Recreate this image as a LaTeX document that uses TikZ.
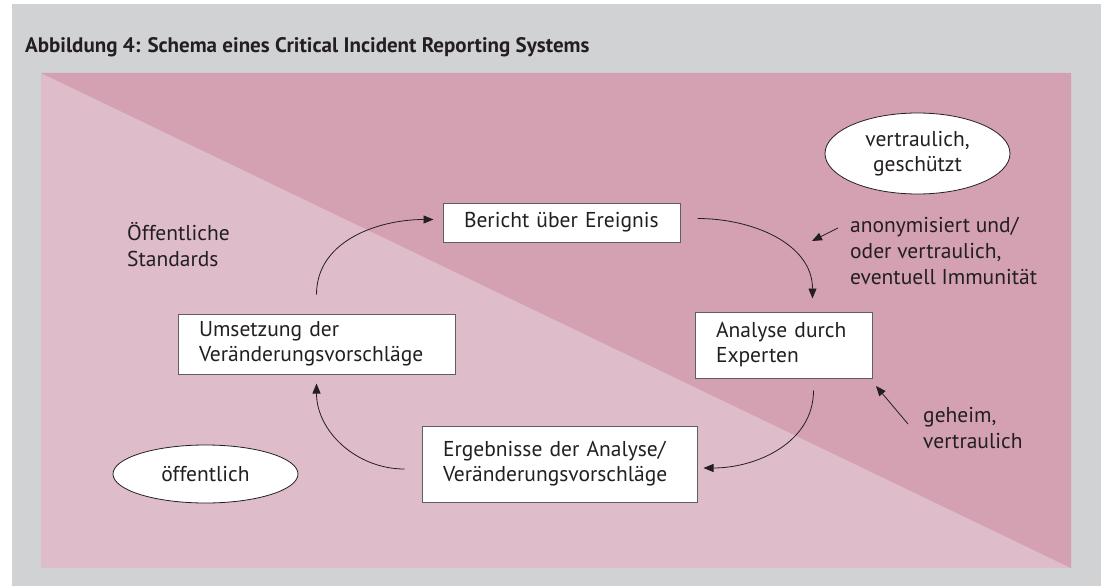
\documentclass[tikz,border=0pt]{standalone}
\usepackage{fontspec}
\setmainfont{PT Sans}
\usetikzlibrary{arrows.meta,shapes.geometric}

\definecolor{framegray}{RGB}{209,210,212}
\definecolor{darkrose}{RGB}{211,161,178}
\definecolor{lightrose}{RGB}{223,188,202}
\definecolor{boxline}{RGB}{95,95,95}
\definecolor{ink}{RGB}{35,31,32}

\tikzset{
    box/.style={draw=boxline, line width=1pt, fill=white, text=ink, inner xsep=21pt, inner ysep=0pt, align=left, font=\fontsize{21.5}{25}\selectfont},
    oval/.style={ellipse, draw=ink, line width=0.8pt, fill=white, text=ink, align=center, inner sep=0pt, minimum width=185pt, font=\fontsize{21.5}{25}\selectfont},
    note/.style={anchor=north west, align=left, inner sep=0pt, text=ink, font=\fontsize{21.5}{26}\selectfont},
    flow/.style={draw=ink, line width=0.8pt, -{Triangle[length=10pt,width=8pt]}}
}

\begin{document}
\begin{tikzpicture}[x=1pt,y=1pt]
    \useasboundingbox (0,0) rectangle (1106,-586);
    \fill[framegray] (12,-4) rectangle (1101,-586);
    \fill[lightrose] (41,-73) rectangle (1071,-568);
    \fill[darkrose] (41,-73) -- (1071,-73) -- (1071,-568) -- cycle;

    \node[anchor=base west, inner sep=0pt, text=ink, font=\bfseries\fontsize{21}{25}\selectfont] (title) at (25,-53) {Abbildung 4: Schema eines Critical Incident Reporting Systems};

    \node[box, text width=195pt, minimum height=39pt] (bericht) at (561.5,-222.5) {Bericht über Ereignis};
    \node[box, text width=135pt, minimum height=66pt] (analyse) at (783.5,-345) {Analyse durch\\Experten};
    \node[box, text width=235pt, minimum height=60pt] (umsetzung) at (316.5,-344) {Umsetzung der\\Veränderungsvorschläge};
    \node[box, text width=233pt, minimum height=76pt] (ergebnisse) at (559.5,-464) {Ergebnisse der Analyse/\\Veränderungsvorschläge};

    \node[oval, minimum height=81pt] (geschuetzt) at (917.5,-153.5) {vertraulich,\\geschützt};
    \node[oval, minimum height=58pt] (oeffentlich) at (205.5,-474) {öffentlich};

    \node[note] (standards) at (127,-222) {Öffentliche\\Standards};
    \node[note] (anonym) at (850,-217) {anonymisiert und/\\oder vertraulich,\\eventuell Immunität};
    \node[note] (geheim) at (923,-407) {geheim,\\vertraulich};

    \coordinate (anontip) at (812,-241);
    \coordinate (geheimtip) at (876,-386);

    \draw[flow] ([yshift=19pt]umsetzung.north) to[out=90,in=180] ([xshift=-9pt,yshift=3pt]bericht.west);
    \draw[flow] ([xshift=17pt,yshift=4pt]bericht.east) to[out=0,in=90] ([xshift=29pt,yshift=13pt]analyse.north);
    \draw[flow] ([xshift=30pt,yshift=-12pt]analyse.south) to[out=-90,in=0] ([xshift=6pt,yshift=-4pt]ergebnisse.east);
    \draw[flow] ([xshift=-17pt,yshift=-5pt]ergebnisse.west) to[out=180,in=-90] ([yshift=-9pt]umsetzung.south);

    \draw[flow] ([xshift=-12pt,yshift=-11pt]anonym.north west) -- (anontip);
    \draw[flow] ([xshift=-15pt,yshift=-17pt]geheim.north west) -- (geheimtip);
\end{tikzpicture}
\end{document}
